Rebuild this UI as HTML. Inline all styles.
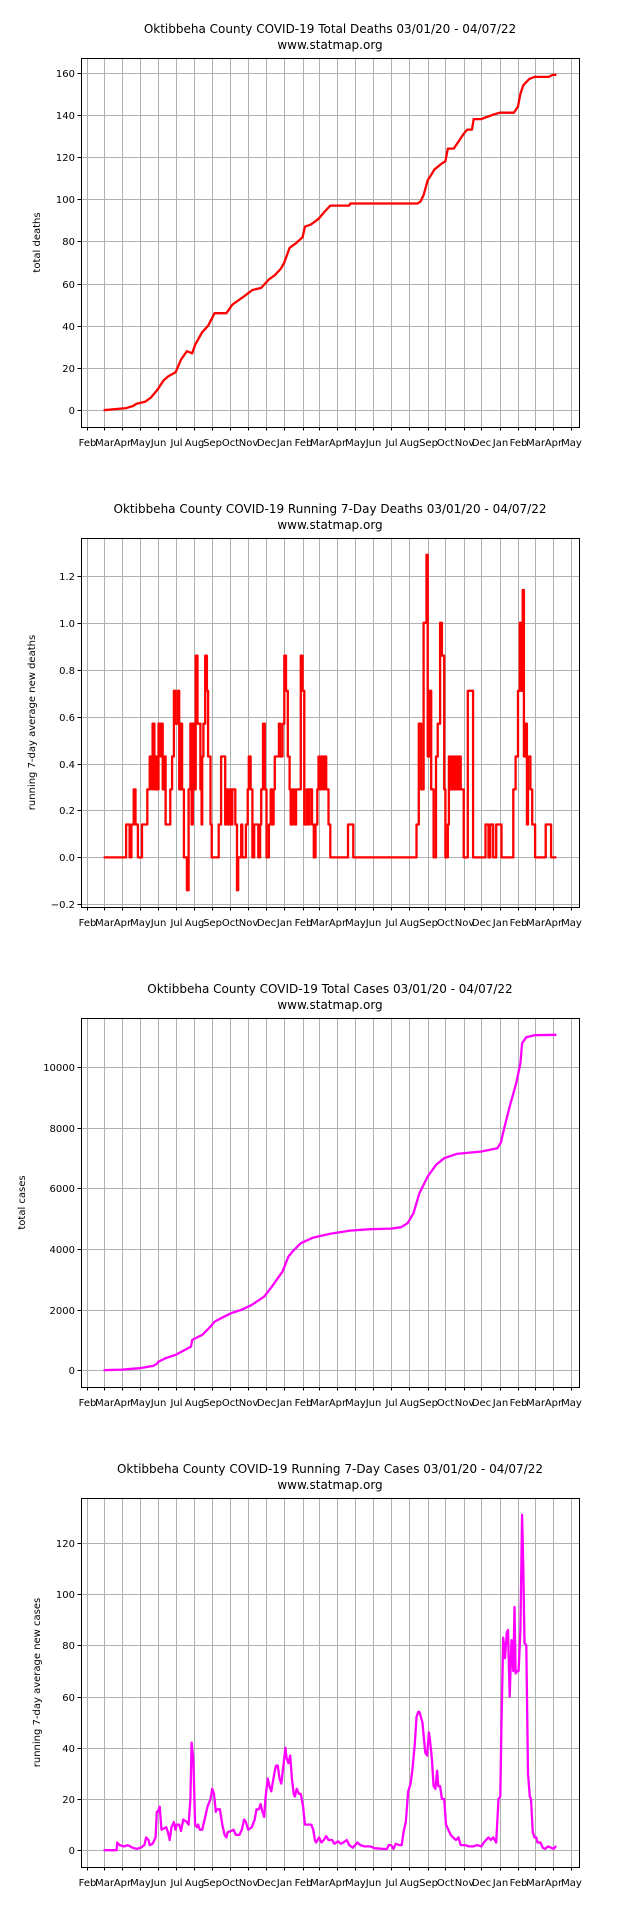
<!DOCTYPE html>
<html><head><meta charset="utf-8"><style>
html,body{margin:0;padding:0;background:#fff;}
svg{display:block;font-family:"DejaVu Sans","Liberation Sans",sans-serif;}
</style></head>
<body>
<svg id="root" width="640" height="1920" viewBox="0 0 640 1920" xmlns="http://www.w3.org/2000/svg"></svg>
<script>
// ---- data (days since 2020-03-01) ----
const deathTotalDays=[0,38,50,55,70,80,92,101,109,122,131,141,150,155,167,177,188,208,218,228,238,252,267,280,290,300,306,315,325,337,341,351,361,365,374,384,416,418,532,537,542,549,556,560,573,579,583,593,598,610,616,624,627,640,649,659,671,695,702,706,711,721,730,754,761,767];
const deathTotalVals=[0,1,2,3,4,6,10,14,16,18,24,28,27,31,37,40,46,46,50,52,54,57,58,62,64,67,70,77,79,82,87,88,90,91,94,97,97,98,98,99,102,109,112,114,117,118,124,124,126,131,133,133,138,138,139,140,141,141,144,150,154,157,158,158,159,159];

const death7Days=[0,35,38,44,47,51,54,58,65,74,78,82,83,86,88,91,93,96,98,100,102,105,113,116,119,122,126,128,130,133,136,141,144,147,149,151,153,156,159,164,166,167,169,172,175,177,181,183,195,199,206,208,210,213,216,218,223,226,228,233,235,241,244,246,249,252,255,259,262,265,267,270,273,276,280,283,285,288,290,294,297,299,303,306,309,312,315,317,320,323,326,331,334,337,340,344,347,349,353,356,359,362,364,367,369,372,374,377,381,384,414,423,530,534,538,542,547,549,552,555,559,563,566,570,573,577,579,583,585,588,591,594,597,599,602,605,610,617,626,647,652,655,660,665,670,674,694,698,702,705,708,710,712,715,717,719,723,726,731,749,758,767];
const death7Vals=[0,0,0.14,0,0.14,0.29,0.14,0,0.14,0.29,0.43,0.29,0.57,0.29,0.43,0.29,0.57,0.43,0.57,0.29,0.43,0.14,0.29,0.43,0.71,0.57,0.71,0.29,0.57,0.29,0,-0.14,0.29,0.57,0.14,0.57,0.29,0.86,0.57,0.29,0.14,0.43,0.57,0.86,0.71,0.43,0.14,0,0.14,0.43,0.14,0.29,0.14,0.29,0.14,0.29,0.14,-0.14,0,0.14,0,0.14,0.29,0.43,0.29,0,0.14,0.14,0,0.14,0.29,0.57,0.29,0,0.14,0.29,0.14,0.29,0.43,0.43,0.57,0.43,0.57,0.86,0.71,0.43,0.29,0.14,0.29,0.14,0.29,0.29,0.86,0.71,0.14,0.29,0.14,0.29,0.14,0,0.14,0.29,0.43,0.29,0.43,0.29,0.43,0.29,0.14,0,0.14,0,0.14,0.57,0.29,1.0,1.29,0.43,0.71,0.29,0,0.43,0.57,1.0,0.86,0.29,0,0.14,0.43,0.29,0.43,0.29,0.43,0.29,0.43,0.29,0,0.71,0,0.14,0,0.14,0,0.14,0.14,0,0.29,0.43,0.71,1.0,0.71,1.14,0.43,0.57,0.14,0.43,0.29,0.14,0,0.14,0,0];

const caseTotalDays=[0,31,61,84,90,93,105,122,143,148,150,167,181,188,199,216,233,251,272,285,303,313,320,334,355,383,417,452,487,504,515,525,535,549,563,577,598,640,667,673,678,688,699,706,709,716,730,767];
const caseTotalVals=[0,22,66,143,209,286,396,506,726,781,1001,1166,1441,1606,1716,1881,1991,2156,2431,2761,3256,3751,3916,4191,4378,4499,4609,4653,4675,4719,4851,5182,5842,6392,6777,6997,7140,7217,7327,7514,7932,8702,9472,10132,10792,10990,11056,11070];

const case7Days=[0,22,23,27,35,41,49,56,63,69,72,76,78,83,88,90,92,95,98,102,106,109,112,115,119,122,124,128,131,135,141,144,147,149,152,155,158,160,163,167,172,176,181,184,187,190,192,197,201,205,208,210,216,220,224,230,234,238,241,245,251,256,259,263,266,269,272,274,278,281,284,287,290,292,295,298,301,303,308,310,313,316,319,322,324,327,331,334,338,341,348,352,355,358,360,365,369,373,377,381,387,391,397,402,406,412,416,422,426,430,435,442,452,459,473,480,483,487,491,495,501,505,508,512,516,520,523,527,530,533,535,540,542,545,548,551,553,556,559,562,565,567,570,573,577,580,584,588,592,597,601,605,612,619,626,633,640,644,648,652,656,660,665,669,672,674,677,680,683,685,688,691,694,696,698,701,703,706,709,711,713,716,719,722,724,727,730,733,735,740,744,748,753,758,762,766,767];
const case7Vals=[0,0,3,2,1.5,2,1,0.5,1,2,5,4,2,2.5,5,15,15,17,8,8.5,9,7,4,9,11,8,10,10,7.5,12,11,10,20,42,35,10,9,10,8,8,13,17,20,24,22,15,16,16,10,6,5,7,7.5,8,6,6,8,12,11,8,9,12,16,16,18,15,13,20,28,25,23,27,31,33,33,28,26,30,40,36,34,37,28,22,21,24,22,22,17,10,10,10,8,4,3,5,3,4,5.5,4,4,2.5,3.5,2.5,3,4,2,1,2,3,2,1.5,1.5,0.8,0.5,0.5,2,2,0.5,2.5,2,2,7,11,23,26,31,41,52,54,54,50,45,38,37,46,43,36,25,24,31,25,25,20,20,10,8,6,5,4,5,2,2,1.5,1.5,2,1.5,3,4,5,4,5,3,20,21,50,83,75,85,86,60,82,70,95,69,70,70,86,131,110,81,80,30,21,20,7,5,5,3,3,1,0.5,1.5,1,0.5,1.5,1.5];

const monthLabels=["Feb","Mar","Apr","May","Jun","Jul","Aug","Sep","Oct","Nov","Dec","Jan","Feb","Mar","Apr","May","Jun","Jul","Aug","Sep","Oct","Nov","Dec","Jan","Feb","Mar","Apr","May"];
const deathTicks=[0,20,40,60,80,100,120,140,160];
const death7Ticks=[-0.2,0.0,0.2,0.4,0.6,0.8,1.0,1.2];
const caseTicks=[0,2000,4000,6000,8000,10000];
const case7Ticks=[0,20,40,60,80,100,120];

const NS="http://www.w3.org/2000/svg";
const root=document.getElementById('root');
function mk(tag,attrs,parent){const e=document.createElementNS(NS,tag);for(const k in attrs)e.setAttribute(k,attrs[k]);parent.appendChild(e);return e;}
const base=Date.UTC(2020,2,1);
const monthDays=[];
for(let i=0;i<28;i++){const d=Date.UTC(2020,1+i,1);monthDays.push((d-base)/86400000);}

function chart(idx,title,ylabel,ylabelX,days,vals,ticks,fmt,color,stepped){
  const g=mk('g',{transform:'translate(0,'+(idx*480)+')'},root);
  
  
  const L=81,R=579,T=58,B=427;
  const dmin=0,dmax=767,dr=dmax-dmin;
  const x0=dmin-0.05*dr,x1=dmax+0.05*dr;
  const vmin=Math.min(...vals),vmax=Math.max(...vals),vr=vmax-vmin;
  const y0=vmin-0.05*vr,y1=vmax+0.05*vr;
  const X=d=>L+(d-x0)/(x1-x0)*(R-L);
  const Y=v=>B-(v-y0)/(y1-y0)*(B-T);
  const t1=mk('text',{x:330,y:33,'text-anchor':'middle','font-size':'12'},g);t1.textContent=title;
  
  const t2=mk('text',{x:330,y:49,'text-anchor':'middle','font-size':'12'},g);t2.textContent='www.statmap.org';
  
  const grid=mk('g',{stroke:'#b0b0b0','stroke-width':'1'},g);
  
  monthDays.forEach((d,i)=>{
    const x=Math.round(X(d))+0.5;
    mk('line',{x1:x,x2:x,y1:T,y2:B},grid);
    mk('line',{x1:x,x2:x,y1:B,y2:B+3.5,stroke:'#000'},g);
    const lb=mk('text',{x:x,y:446,'text-anchor':'middle','font-size':'10',fill:'#000'},g);
    lb.textContent=monthLabels[i];
    
  });
  ticks.forEach(v=>{
    const y=Math.round(Y(v))+0.5;
    mk('line',{x1:L,x2:R,y1:y,y2:y},grid);
    mk('line',{x1:L-3.5,x2:L,y1:y,y2:y,stroke:'#000'},g);
    const lb=mk('text',{x:L-6,y:y+3.5,'text-anchor':'end','font-size':'10'},g);
    lb.textContent=fmt(v);
    
  });
  let d='';
  for(let i=0;i<days.length;i++){
    const px=X(days[i]).toFixed(1),py=Y(vals[i]).toFixed(1);
    if(i===0)d+='M'+px+','+py;
    else if(stepped)d+='H'+px+'V'+py;
    else d+='L'+px+','+py;
  }
  const p=mk('path',{d:d,fill:'none',stroke:color,'stroke-width':'2.3','stroke-linejoin':'round'},g);
  
  const box=mk('rect',{x:L+0.5,y:T+0.5,width:R-L,height:B-T,fill:'none',stroke:'#000','stroke-width':'1'},g);
  
  const cy=(T+B)/2;
  const yl=mk('text',{x:ylabelX,y:cy,'text-anchor':'middle','font-size':'10',transform:'rotate(-90 '+ylabelX+' '+cy+')'},g);
  yl.textContent=ylabel;
  
}
chart(0,'Oktibbeha County COVID-19 Total Deaths 03/01/20 - 04/07/22','total deaths',40,deathTotalDays,deathTotalVals,deathTicks,v=>String(v),'#ff0000',false);
chart(1,'Oktibbeha County COVID-19 Running 7-Day Deaths 03/01/20 - 04/07/22','running 7-day average new deaths',35,death7Days,death7Vals,death7Ticks,v=>(v<0?'\u2212'+Math.abs(v).toFixed(1):v.toFixed(1)),'#ff0000',true);
chart(2,'Oktibbeha County COVID-19 Total Cases 03/01/20 - 04/07/22','total cases',25,caseTotalDays,caseTotalVals,caseTicks,v=>String(v),'#ff00ff',false);
chart(3,'Oktibbeha County COVID-19 Running 7-Day Cases 03/01/20 - 04/07/22','running 7-day average new cases',40,case7Days,case7Vals,case7Ticks,v=>String(v),'#ff00ff',false);
</script>
</body></html>
